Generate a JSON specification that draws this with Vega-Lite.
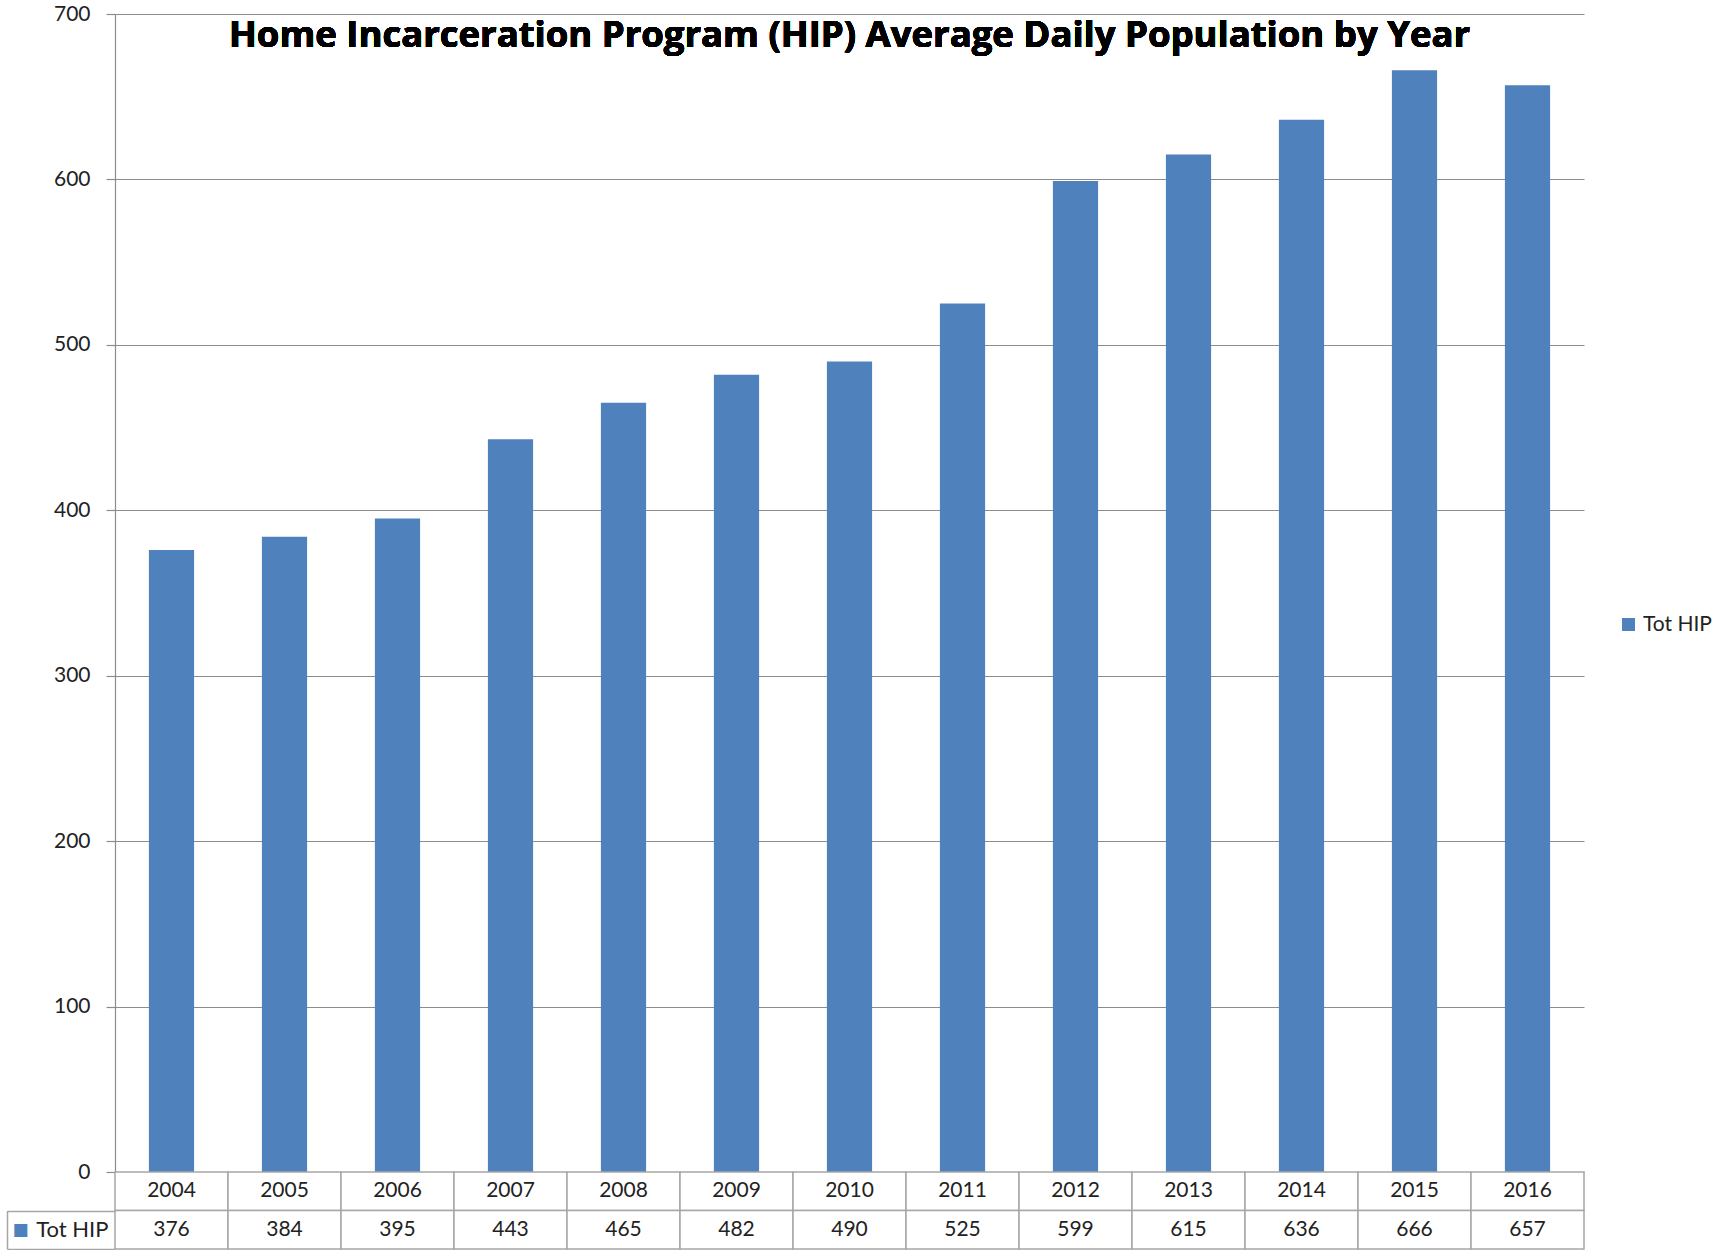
{
  "$schema": "https://vega.github.io/schema/vega-lite/v6.json",
  "padding": {"left": 6, "top": 3, "right": 0, "bottom": 0},
  "background": "white",
  "bounds": "flush",
  "spacing": 0,
  "config": {"view": {"stroke": null}, "font": "Lato"},
  "data": {"values": [
    {"year": "2004", "value": 376},
    {"year": "2005", "value": 384},
    {"year": "2006", "value": 395},
    {"year": "2007", "value": 443},
    {"year": "2008", "value": 465},
    {"year": "2009", "value": 482},
    {"year": "2010", "value": 490},
    {"year": "2011", "value": 525},
    {"year": "2012", "value": 599},
    {"year": "2013", "value": 615},
    {"year": "2014", "value": 636},
    {"year": "2015", "value": 666},
    {"year": "2016", "value": 657}
  ]},
  "vconcat": [
    {
      "width": 1469,
      "height": 1158,
      "encoding": {
        "x": {"field": "year", "type": "nominal", "sort": null,
              "scale": {"paddingInner": 0.6, "paddingOuter": 0.3}, "axis": null}
      },
      "layer": [
        {
          "mark": {"type": "bar"},
          "encoding": {
            "y": {"field": "value", "type": "quantitative",
                  "scale": {"domain": [0, 700], "nice": false},
                  "axis": {"values": [0, 100, 200, 300, 400, 500, 600, 700], "title": null,
                           "grid": true, "gridColor": "#8c8c8c", "gridWidth": 1.2,
                           "domainColor": "#8c8c8c", "domainWidth": 1.2,
                           "tickColor": "#8c8c8c", "tickSize": 9, "tickWidth": 1.2,
                           "labelPadding": 16, "labelFontSize": 21, "labelFont": "Lato",
                           "labelColor": "#222222"}},
            "color": {"datum": "Tot HIP", "type": "nominal",
                      "scale": {"range": ["#4F81BD"]},
                      "legend": {"title": null, "orient": "none", "legendX": 1503, "legendY": 600,
                                 "symbolType": "square", "symbolSize": 170, "symbolStrokeWidth": 0,
                                 "labelFontSize": 21, "labelFont": "Lato", "labelColor": "#222222",
                                 "labelOffset": 4}}
          }
        },
        {
          "mark": {"type": "text", "font": "Open Sans", "fontSize": 36.5, "fontWeight": "bold",
                   "color": "#000000", "baseline": "middle", "align": "center"},
          "encoding": {
            "x": {"datum": "2010"},
            "y": {"datum": 686.5, "type": "quantitative"},
            "text": {"value": "Home Incarceration Program (HIP) Average Daily Population by Year"}
          }
        }
      ]
    },
    {
      "width": 1469,
      "height": 77,
      "transform": [{"fold": ["year", "value"], "as": ["row", "cell"]}],
      "resolve": {"axis": {"y": "independent"}},
      "layer": [
        {
          "mark": {"type": "rect", "fill": "white", "stroke": "#a6a6a6", "strokeWidth": 1.5},
          "encoding": {
            "x": {"field": "year", "type": "nominal", "sort": null,
                  "scale": {"paddingInner": 0, "paddingOuter": 0}, "axis": null},
            "y": {"field": "row", "type": "nominal",
                  "scale": {"domain": ["year", "value"], "paddingInner": 0, "paddingOuter": 0},
                  "axis": {"title": null, "domain": false,
                           "tickSize": 108, "tickColor": "#a6a6a6", "tickWidth": 1.5,
                           "tickOffset": 19.25, "labelOffset": -19.25,
                           "labelExpr": "datum.value == 'value' ? 'Tot HIP' : ''",
                           "labelPadding": -101, "labelFontSize": 22, "labelFont": "Lato",
                           "labelColor": "#222222"}}
          }
        },
        {
          "mark": {"type": "text", "fontSize": 21, "font": "Lato", "color": "#222222"},
          "encoding": {
            "x": {"field": "year", "type": "nominal", "sort": null, "axis": null},
            "y": {"field": "row", "type": "nominal",
                  "axis": {"title": null, "orient": "left", "offset": 108,
                           "domain": true, "domainColor": "#a6a6a6", "domainWidth": 1.5,
                           "domainDash": [0, 38.5, 38.5, 0],
                           "ticks": false,
                           "labelExpr": "datum.value == 'value' ? '■' : ''",
                           "labelPadding": -21, "labelFontSize": 17, "labelFont": "DejaVu Sans",
                           "labelColor": "#4F81BD"}},
            "text": {"field": "cell"}
          }
        }
      ]
    }
  ]
}
